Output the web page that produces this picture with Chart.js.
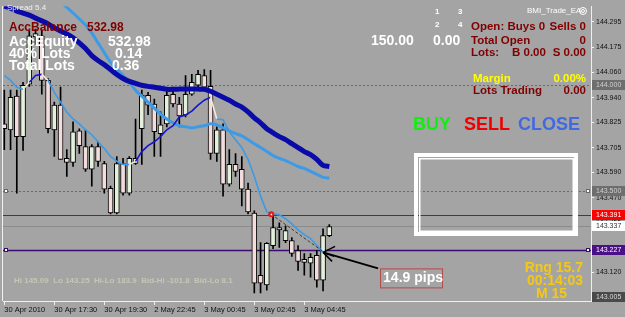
<!DOCTYPE html>
<html><head><meta charset="utf-8">
<script src="https://cdn.jsdelivr.net/npm/chart.js@4.4.1/dist/chart.umd.min.js"></script>
<style>html,body{margin:0;padding:0;background:#a4a4a4;overflow:hidden}canvas{display:block}</style>
</head><body>
<canvas id="c" width="625" height="317"></canvas>
<script>
// ---- data (prices) ----
const candleOpen  = [143.817,143.789,143.947,143.757,144.003,144.225,144.230,144.021,143.789,143.905,143.655,143.636,143.784,143.710,143.604,143.710,143.631,143.515,143.399,143.631,143.492,143.631,143.794,143.951,143.910,143.771,143.817,143.956,143.910,143.859,143.956,143.998,144.044,143.993,143.678,143.789,143.534,143.627,143.604,143.511,143.399,143.107,143.061,143.246,143.320,143.269,143.269,143.223,143.181,143.163,143.200,143.084,143.293];
const candleHigh  = [143.975,143.975,143.975,144.012,144.253,144.262,144.258,144.030,143.919,143.989,143.696,143.826,143.794,143.789,143.720,143.733,143.641,143.525,143.664,143.655,143.664,143.840,143.975,143.965,143.933,143.873,143.975,143.989,143.942,144.044,144.049,144.068,144.072,144.068,143.803,143.817,143.696,143.678,143.664,143.539,143.409,143.260,143.260,143.390,143.353,143.339,143.283,143.246,143.209,143.209,143.223,143.325,143.344];
const candleLow   = [143.696,143.696,143.492,143.692,143.993,144.190,143.956,143.775,143.664,143.650,143.571,143.617,143.678,143.594,143.525,143.617,143.492,143.395,143.395,143.483,143.483,143.627,143.627,143.860,143.664,143.664,143.803,143.896,143.803,143.849,143.951,143.989,143.975,143.650,143.641,143.478,143.525,143.571,143.432,143.395,143.024,143.024,143.037,143.232,143.237,143.260,143.195,143.130,143.107,143.098,143.051,143.033,143.288];
const candleClose = [143.794,143.942,143.757,143.998,144.230,144.240,144.021,143.794,143.905,143.650,143.636,143.780,143.715,143.604,143.710,143.641,143.511,143.399,143.631,143.492,143.655,143.655,143.951,143.905,143.780,143.812,143.951,143.910,143.854,143.956,144.012,144.049,143.989,143.678,143.789,143.534,143.627,143.594,143.511,143.404,143.070,143.070,143.256,143.330,143.330,143.316,143.209,143.172,143.167,143.191,143.084,143.293,143.335];
const maFast = [144.044,144.021,143.989,143.979,144.012,144.044,144.049,144.021,143.965,143.919,143.873,143.840,143.817,143.789,143.766,143.733,143.701,143.664,143.641,143.627,143.626,143.641,143.687,143.715,143.733,143.757,143.789,143.808,143.849,143.859,143.877,143.905,143.928,143.942,143.840,143.836,143.780,143.743,143.706,143.650,143.571,143.478,143.404,143.395,143.390,143.372,143.348,143.320,143.297,143.279,143.246,143.214,null];
const maMid  = [144.643,144.615,144.587,144.559,144.531,144.504,144.476,144.448,144.420,144.388,144.364,144.337,144.309,144.281,144.244,144.197,144.151,144.105,144.072,144.044,144.012,143.975,143.947,143.919,143.891,143.863,143.840,143.822,143.808,143.803,143.798,143.803,143.808,143.817,143.812,143.798,143.784,143.771,143.761,143.743,143.724,143.706,143.687,143.668,143.655,143.645,143.631,143.617,143.608,143.594,143.580,143.566,143.562];
const maSlow = [144.369,144.360,144.346,144.337,144.327,144.313,144.300,144.286,144.267,144.253,144.239,144.221,144.197,144.170,144.137,144.114,144.095,144.072,144.049,144.030,144.016,144.007,143.998,143.993,143.989,143.984,143.979,143.979,143.980,143.981,143.981,143.980,143.979,143.970,143.956,143.942,143.928,143.910,143.896,143.873,143.845,143.822,143.794,143.775,143.757,143.743,143.724,143.706,143.687,143.673,143.650,143.622,143.617];
const xTickIndex  = [0,8,16,24,32,40,48];
const xTickLabels = ['30 Apr 2010','30 Apr 17:30','30 Apr 19:30','2 May 22:45','3 May 00:45','3 May 02:45','3 May 04:45'];
const yTickValues = [144.295,144.175,144.060,143.940,143.825,143.705,143.590,143.470,143.355,143.235,143.120,143.005];
const levelValues = [144.000,143.500,143.391,143.337,143.227,143.005];
const trendX = [42.7,51];
const trendY = [143.393,143.218];
const arrowFrom = [59.8,143.139];
const arrowTo   = [51,143.214];

// ---- styles ----
const BG = '#a4a4a4';
const levelStyle = [
  {line:'#6a6a6a', dash:[2,2], box:'#6e6e6e', txt:'#cfcfcf', w:1},
  {line:'#6a6a6a', dash:[2,2], box:'#6e6e6e', txt:'#cfcfcf', w:1, ends:true},
  {line:'#d00000', dash:[], box:'#ff0000', txt:'#ffffff', w:1},
  {line:'#8c8c8c', dash:[], box:'#ffffff', txt:'#333333', w:1},
  {line:'#3a0a70', dash:[], box:'#4b0f86', txt:'#ffffff', w:1.5, ends:true},
  {line:null, box:'#4a4a4a', txt:'#d8d8d8'}
];
const FONT = '"Liberation Sans", Arial, sans-serif';

const bodies = candleOpen.map((o,i)=>({x:i, y:[o, candleClose[i]]}));
const wicks  = candleLow.map((l,i)=>({x:i, y:[l, candleHigh[i]]}));
const toXY = arr => arr.map((v,i)=>({x:i, y:v}));

function fastColor(ctx){
  const i = ctx.p0DataIndex, d = maFast;
  const cur = d[i+1]-d[i];
  const prev = i>0 ? d[i]-d[i-1] : cur;
  const up = cur>0, prevUp = prev>0;
  if (i>0 && up!==prevUp) return '#f4ead8';
  return up ? '#1616cc' : '#3c9ae6';
}

const bgPlugin = {
  id:'bg',
  beforeDraw(chart){
    const c = chart.ctx; c.save(); c.fillStyle = BG; c.fillRect(0,0,chart.width,chart.height); c.restore();
  },
  beforeDatasetsDraw(chart){
    const c = chart.ctx, a = chart.chartArea, ys = chart.scales.y;
    c.save();
    levelValues.forEach((v,k)=>{
      const s = levelStyle[k]; if(!s.line) return;
      const y = Math.round(ys.getPixelForValue(v))+0.5;
      c.strokeStyle = s.line; c.lineWidth = s.w; c.setLineDash(s.dash);
      c.beginPath(); c.moveTo(a.left, y); c.lineTo(a.right, y); c.stroke();
    });
    c.restore();
  },
  afterDatasetsDraw(chart){
    const c = chart.ctx, a = chart.chartArea, xs = chart.scales.x, ys = chart.scales.y;
    const P = (xv,yv)=>[xs.getPixelForValue(xv), ys.getPixelForValue(yv)];
    c.save();
    levelValues.forEach((v,k)=>{
      const s = levelStyle[k]; if(!s.ends) return;
      const y = Math.round(ys.getPixelForValue(v));
      [a.left+1, a.right-5].forEach(x=>{
        c.fillStyle='#ffffff'; c.fillRect(x,y-2,4,4);
        c.strokeStyle=s.line; c.lineWidth=1; c.setLineDash([]); c.strokeRect(x+0.5,y-1.5,3,3);
      });
    });
    const t0 = P(trendX[0],trendY[0]), t1 = P(trendX[1],trendY[1]);
    c.strokeStyle='#3a3a3a'; c.lineWidth=1; c.setLineDash([3,2]);
    c.beginPath(); c.moveTo(t0[0],t0[1]); c.lineTo(t1[0],t1[1]); c.stroke();
    c.setLineDash([]);
    c.fillStyle='#e01818'; c.beginPath(); c.arc(t0[0],t0[1],3,0,Math.PI*2); c.fill();
    c.fillStyle='#ffffff'; c.fillRect(t0[0]-0.5,t0[1]-0.5,1.5,1.5);
    const f = P(arrowFrom[0],arrowFrom[1]), tp = P(arrowTo[0],arrowTo[1]);
    c.strokeStyle='#000'; c.lineWidth=2;
    c.beginPath(); c.moveTo(f[0],f[1]); c.lineTo(tp[0],tp[1]); c.stroke();
    c.lineWidth=1.5;
    c.beginPath(); c.moveTo(tp[0],tp[1]); c.lineTo(tp[0]+12,tp[1]-6);
    c.moveTo(tp[0],tp[1]); c.lineTo(tp[0]+11,tp[1]+4);
    c.moveTo(tp[0],tp[1]); c.lineTo(tp[0]+9,tp[1]+9); c.stroke();
    c.strokeStyle='#b84848'; c.lineWidth=1;
    c.strokeRect(f[0]+2.5, f[1]+0.5, 62, 19);
    c.strokeStyle='#ffffff'; c.lineWidth=4; c.strokeRect(416,155,160,79);
    c.lineWidth=1.5; c.strokeRect(419.75,158.75,153.5,72.5);
    const T = (s,x,y,font,col,al)=>{c.font=font+' '+FONT; c.fillStyle=col; c.textAlign=al||'left'; c.textBaseline='middle'; c.fillText(s,x,y);};
    const R='#800000', W='#ffffff', Y='#f5c814', RF='bold 11.5px';
    T('Spread 5.4',7,7.5,'8px','#f0f0f0');
    T('AccBalance',9,27.5,'bold 12px',R); T('532.98',87,27.5,'bold 12px',R);
    T('AccEquity',9,42,'bold 14px',W); T('532.98',108,42,'bold 14px',W);
    T('40% Lots',9,54.5,'bold 14px',W); T('0.14',115,54.5,'bold 14px',W);
    T('Total Lots',9,66.5,'bold 14px',W); T('0.36',112,66.5,'bold 14px',W);
    T('1',435,11.5,'bold 8px',W); T('3',458,11.5,'bold 8px',W);
    T('2',435,25,'bold 8px',W); T('4',458,25,'bold 8px',W);
    T('150.00',371,41,'bold 14px',W); T('0.00',433,41,'bold 14px',W);
    T('BMI_Trade_EA',527,11,'8px',W);
    c.strokeStyle='#ffffff'; c.lineWidth=1; c.beginPath(); c.arc(583,11,3.5,0,Math.PI*2); c.stroke();
    c.beginPath(); c.arc(583,11,1.5,0,Math.PI*2); c.stroke();
    T('Open: Buys 0',471,27,RF,R); T('Sells 0',586,27,RF,R,'right');
    T('Total Open',471,41,RF,R); T('0',586,41,RF,R,'right');
    T('Lots:',471,52.5,RF,R); T('B 0.00',512,52.5,RF,R); T('S 0.00',586,52.5,RF,R,'right');
    T('Margin',473,79,RF,'#ffff00'); T('0.00%',586,79,RF,'#ffff00','right');
    T('Lots Trading',473,91,RF,R); T('0.00',586,91,RF,R,'right');
    T('BUY',413,125.5,'bold 18px','#10ee10'); T('SELL',464,125.5,'bold 18px','#ee0000'); T('CLOSE',518,125.5,'bold 18px','#4169e1');
    T('Hi 145.09  Lo 143.25  Hi-Lo 183.9  Bid-Hi -101.8  Bid-Lo 8.1',14,280.5,'bold 8px','#c6c6b4');
    T('14.9 pips',f[0]+5,f[1]+10,'bold 14px',W);
    T('Rng 15.7',583,268,'bold 14px',Y,'right'); T('00:14:03',583,281,'bold 14px',Y,'right'); T('M 15',567,294,'bold 14px',Y,'right');
    c.restore();
  },
  afterDraw(chart){
    const c = chart.ctx, a = chart.chartArea, ys = chart.scales.y;
    c.save();
    c.strokeStyle='#f0f0f0'; c.lineWidth=1; c.beginPath(); c.moveTo(a.left-0.5,a.top); c.lineTo(a.left-0.5,a.bottom); c.stroke();
    levelValues.forEach((v,k)=>{
      const s = levelStyle[k];
      const y = Math.round(ys.getPixelForValue(v));
      c.fillStyle=s.box; c.fillRect(a.right+1,y-5,33,10);
      c.font='7px '+FONT; c.fillStyle=s.txt; c.textAlign='left'; c.textBaseline='middle';
      c.fillText(v.toFixed(3),a.right+5,y+0.5);
    });
    c.restore();
  }
};

new Chart(document.getElementById('c'), {
  type:'bar',
  data:{datasets:[
    {type:'line', data:toXY(maFast), borderWidth:1.6, pointRadius:0, tension:0, order:0,
     borderColor:'#3c9ae6', segment:{borderColor:fastColor}},
    {type:'line', data:toXY(maSlow), borderColor:'#0a0aa8', borderWidth:5, pointRadius:0, tension:0.2, order:1},
    {type:'line', data:toXY(maMid), borderColor:'#3c9ae6', borderWidth:3, pointRadius:0, tension:0.2, order:2},
    {data:bodies, barThickness:5, grouped:false, order:3, borderColor:'#000', borderWidth:1, borderSkipped:false,
     backgroundColor: candleOpen.map((o,i)=> candleClose[i]>=o ? '#e4f0dc' : '#f2dcdc')},
    {data:wicks, barThickness:1, grouped:false, order:4, backgroundColor:'#000', borderWidth:0}
  ]},
  options:{
    responsive:false, animation:false, devicePixelRatio:1,
    layout:{padding:{left:3, top:3, right:0, bottom:0}},
    plugins:{legend:{display:false}, tooltip:{enabled:false}},
    scales:{
      x:{type:'linear', min:-0.208, max:93.87, offset:false,
         afterBuildTicks: s => { s.ticks = xTickIndex.map(v=>({value:v})); },
         afterFit: s => { s.height = 16; },
         ticks:{autoSkip:false, maxRotation:0, align:'start', padding:0, color:'#111',
                font:{family:FONT, size:7.5},
                callback:(v)=>{ const k = xTickIndex.indexOf(v); return k>=0 ? xTickLabels[k] : ''; }},
         grid:{drawOnChartArea:false, offset:false, tickLength:4, color:'#f0f0f0'},
         border:{display:true, color:'#f0f0f0', dash:[3,2]}},
      y:{type:'linear', position:'right', min:142.986, max:144.369,
         afterBuildTicks: s => { s.ticks = yTickValues.map(v=>({value:v})); },
         afterFit: s => { s.width = 34; },
         ticks:{autoSkip:false, padding:2, color:'#111', font:{family:FONT, size:7},
                callback:(v)=>Number(v).toFixed(3)},
         grid:{drawOnChartArea:false, tickLength:3, color:'#f0f0f0'},
         border:{display:true, color:'#f0f0f0'}}
    }
  },
  plugins:[bgPlugin]
});
</script>
</body></html>
